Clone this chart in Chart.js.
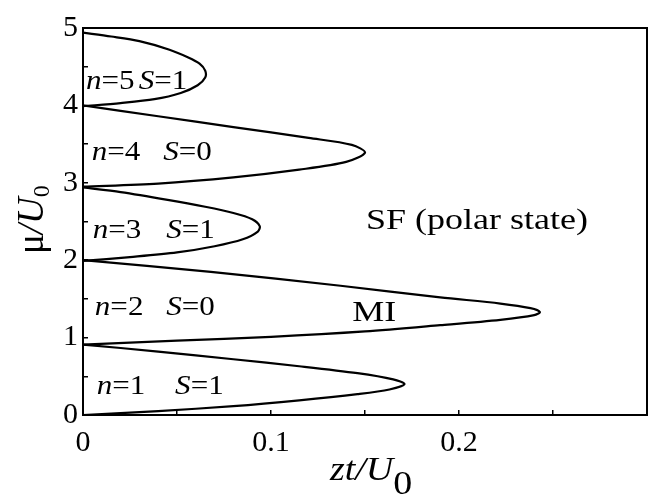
<!DOCTYPE html>
<html>
<head>
<meta charset="utf-8">
<script src="https://cdn.jsdelivr.net/npm/chart.js@4/dist/chart.umd.min.js"></script>
<style>
html, body { margin: 0; padding: 0; background: #fff; overflow: hidden; }
#wrap { position: relative; width: 662px; height: 497px; }
</style>
</head>
<body>
<div id="wrap"><canvas id="c" width="662" height="497"></canvas></div>
<script>
// Mott lobes: [zt/U0, mu/U0], lower branch -> tip -> upper branch
var lobe1 = [[0,0],[0.04,0.05],[0.08,0.115],[0.115,0.19],[0.146,0.27],[0.163,0.33],[0.171,0.40],[0.165,0.46],[0.146,0.54],[0.115,0.63],[0.08,0.72],[0.04,0.82],[0,0.91]];
var lobe2 = [[0,0.91],[0.05,0.96],[0.10,1.01],[0.15,1.08],[0.19,1.16],[0.222,1.23],[0.24,1.29],[0.243,1.33],[0.238,1.38],[0.222,1.44],[0.19,1.52],[0.137,1.67],[0.068,1.85],[0,2.0]];
var lobe3 = [[0,1.99],[0.025,2.04],[0.05,2.10],[0.07,2.18],[0.085,2.27],[0.093,2.37],[0.094,2.44],[0.09,2.53],[0.08,2.61],[0.065,2.69],[0.045,2.78],[0.02,2.88],[0,2.94]];
var lobe4 = [[0,2.95],[0.04,2.99],[0.08,3.07],[0.115,3.17],[0.14,3.27],[0.15,3.39],[0.143,3.49],[0.12,3.58],[0.08,3.72],[0.04,3.86],[0,4.0]];
var lobe5 = [[0,3.99],[0.02,4.03],[0.038,4.08],[0.052,4.16],[0.061,4.26],[0.065,4.36],[0.065,4.45],[0.062,4.54],[0.056,4.62],[0.046,4.72],[0.03,4.83],[0.015,4.89],[0,4.94]];

var xTicks = [0, 0.05, 0.1, 0.15, 0.2, 0.25, 0.3];
var xTickLabels = ['0', '', '0.1', '', '0.2', '', ''];
var yTicks = [0, 0.5, 1, 1.5, 2, 2.5, 3, 3.5, 4, 4.5, 5];
var yTickLabels = ['0', '', '1', '', '2', '', '3', '', '4', '', '5'];

var lobeN = ['1', '2', '3', '4', '5'];
var lobeS = ['1', '0', '1', '0', '1'];
var nAt = [[0.0073,0.27],[0.0063,1.29],[0.0052,2.29],[0.0047,3.29],[0.0016,4.21]];
var sAt = [[0.0490,0.27],[0.0443,1.29],[0.0443,2.29],[0.0427,3.29],[0.0297,4.21]];
var miAt = [0.1432, 1.21];
var sfAt = [0.1505, 2.40];

var SERIF = "'Liberation Serif', 'Times New Roman', serif";

function drawParts(ctx, x, y, parts, size, stretch) {
	ctx.save();
	ctx.translate(x, y);
	ctx.scale(stretch, 1);
	ctx.fillStyle = '#000';
	ctx.textBaseline = 'alphabetic';
	ctx.textAlign = 'left';
	var cx = 0;
	parts.forEach(function(p) {
		ctx.font = (p[1] ? 'italic ' : '') + (p[3] || size) + 'px ' + SERIF;
		ctx.fillText(p[0], cx, p[2] || 0);
		cx += ctx.measureText(p[0]).width;
	});
	ctx.restore();
}

var textPlugin = {
	id: 'figText',
	afterDraw: function(chart) {
		var ctx = chart.ctx, xs = chart.scales.x, ys = chart.scales.y, a = chart.chartArea;
		// frame
		ctx.save();
		ctx.strokeStyle = '#000';
		ctx.lineWidth = 2;
		ctx.strokeRect(a.left, a.top, a.right - a.left, a.bottom - a.top);
		ctx.restore();

		lobeN.forEach(function(n, i) {
			drawParts(ctx, xs.getPixelForValue(nAt[i][0]), ys.getPixelForValue(nAt[i][1]), [['n', true], ['=' + n, false]], 27, 1.15);
			drawParts(ctx, xs.getPixelForValue(sAt[i][0]), ys.getPixelForValue(sAt[i][1]), [['S', true], ['=' + lobeS[i], false]], 27, 1.15);
		});
		drawParts(ctx, xs.getPixelForValue(miAt[0]), ys.getPixelForValue(miAt[1]), [['MI', false]], 30, 1.2);
		drawParts(ctx, xs.getPixelForValue(sfAt[0]), ys.getPixelForValue(sfAt[1]), [['SF (polar state)', false]], 30, 1.2);

		// axis titles
		drawParts(ctx, a.left + 247, a.bottom + 65, [['zt/U', true], ['0', false, 14]], 33, 1.15);
		ctx.save();
		ctx.translate(43, 254);
		ctx.rotate(-Math.PI / 2);
		drawParts(ctx, 0, 0, [['\u03bc', false], ['/U', true], ['0', false, 6, 24]], 37, 1);
		ctx.restore();
	}
};

function lobeSet(pts) {
	return {
		data: pts.map(function(p) { return { x: p[0], y: p[1] }; }),
		showLine: true,
		borderColor: '#000',
		borderWidth: 2.2,
		pointRadius: 0,
		fill: false,
		tension: 0.3
	};
}

var ctx = document.getElementById('c').getContext('2d');
var chart = new Chart(ctx, {
	type: 'scatter',
	data: { datasets: [lobe1, lobe2, lobe3, lobe4, lobe5].map(lobeSet) },
	options: {
		responsive: false,
		animation: false,
		layout: { padding: { top: 15, right: 3, left: 0, bottom: 0 } },
		plugins: { legend: { display: false }, tooltip: { enabled: false } },
		scales: {
			x: {
				type: 'linear', min: 0, max: 0.3,
				afterFit: function(s) { s.height = 82; },
				afterBuildTicks: function(s) { s.ticks = xTicks.map(function(v) { return { value: v }; }); },
				ticks: {
					autoSkip: false, maxRotation: 0, padding: 15, color: '#000',
					font: { family: SERIF, size: 30 },
					callback: function(v, i) { return xTickLabels[i]; }
				},
				grid: { drawOnChartArea: false, drawTicks: true, tickLength: -5, color: '#000', lineWidth: 1.5 },
				border: { display: true, color: '#000', width: 2 }
			},
			y: {
				type: 'linear', min: 0, max: 5,
				afterFit: function(s) { s.width = 83; },
				afterBuildTicks: function(s) { s.ticks = yTicks.map(function(v) { return { value: v }; }); },
				ticks: {
					autoSkip: false, padding: 10, color: '#000',
					font: { family: SERIF, size: 30 },
					callback: function(v, i) { return yTickLabels[i]; }
				},
				grid: { drawOnChartArea: false, drawTicks: true, tickLength: -5, color: '#000', lineWidth: 1.5 },
				border: { display: true, color: '#000', width: 2 }
			}
		}
	},
	plugins: [textPlugin]
});
</script>
</body>
</html>
